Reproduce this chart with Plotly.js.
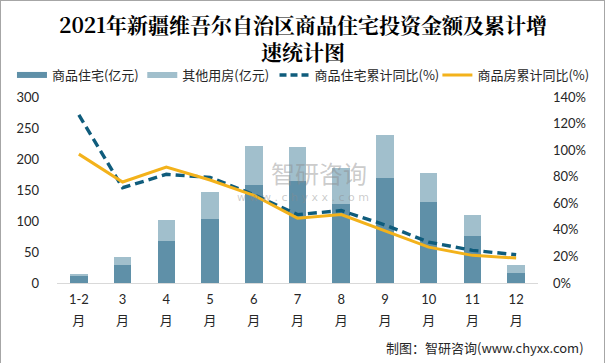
<!DOCTYPE html>
<html>
<head>
<meta charset="utf-8">
<script src="https://cdn.plot.ly/plotly-3.0.1.min.js"></script>
<style>
html,body{margin:0;padding:0;background:#fff;}
#wrap{position:relative;width:606px;height:363px;}
#chart{position:absolute;left:0;top:0;width:606px;height:363px;}
#frame{position:absolute;left:0;top:0;width:603px;height:370px;border:1px solid #a6a6a6;pointer-events:none;}
</style>
</head>
<body>
<div id="wrap"><div id="chart"></div><div id="frame"></div></div>
<script>
// ---- data ----
var categories = ['1-2月','3月','4月','5月','6月','7月','8月','9月','10月','11月','12月'];
var tickNums = ['1-2','3','4','5','6','7','8','9','10','11','12'];
var monthChar = ['月','月','月','月','月','月','月','月','月','月','月'];
var residential = [11.3, 29, 67.7, 103, 158, 164, 127.4, 169.4, 130.7, 75.8, 16];   // 商品住宅(亿元)
var otherUse    = [3.2, 13, 34, 44, 63, 55, 58, 69, 47, 34, 13];                   // 其他用房(亿元)
var resCumYoY   = [126.5, 71.7, 81.8, 79.5, 66.5, 51.5, 54.5, 43.7, 30.8, 24.6, 21.3]; // 商品住宅累计同比(%)
var allCumYoY   = [97, 76, 87.2, 77.5, 66, 48.8, 51.5, 39.5, 27, 20.8, 18.8];        // 商品房累计同比(%)
var seriesNames = ['商品住宅(亿元)','其他用房(亿元)','商品住宅累计同比(%)','商品房累计同比(%)'];
var leftTicks = [0,50,100,150,200,250,300];
var rightTicks = [0,20,40,60,80,100,120,140];
var rightTickLabels = ['0%','20%','40%','60%','80%','100%','120%','140%'];
var titleText = '2021年新疆维吾尔自治区商品住宅投资金额及累计增<br>速统计图';
var sourceText = '制图：智研咨询(www.chyxx.com)';

var C_DARK = '#5f90a8', C_LIGHT = '#a1bfcc', C_DASH = '#0f5c7c', C_GOLD = '#f3b21b';
var catRange = [-0.5, categories.length - 0.5];

var traces = [
  {type:'bar', x:categories, y:residential, marker:{color:C_DARK}, name:seriesNames[0], showlegend:false},
  {type:'bar', x:categories, y:otherUse, marker:{color:C_LIGHT}, name:seriesNames[1], showlegend:false},
  {type:'scatter', mode:'lines', x:categories, y:resCumYoY, xaxis:'x2', yaxis:'y2', name:seriesNames[2], showlegend:false,
   line:{color:C_DASH, width:3.4, dash:'9px,5px'}},
  {type:'scatter', mode:'lines', x:categories, y:allCumYoY, xaxis:'x2', yaxis:'y2', name:seriesNames[3], showlegend:false,
   line:{color:C_GOLD, width:3}},
  // legend entries (one legend per entry, placed like the reference)
  {type:'scatter', mode:'lines', x:[null], y:[null], name:seriesNames[0], legend:'legend', line:{color:C_DARK, width:6}},
  {type:'scatter', mode:'lines', x:[null], y:[null], name:seriesNames[1], legend:'legend2', line:{color:C_LIGHT, width:6}},
  {type:'scatter', mode:'lines', x:[null], y:[null], name:seriesNames[2], legend:'legend3', line:{color:C_DASH, width:3.4, dash:'7px,4px'}},
  {type:'scatter', mode:'lines', x:[null], y:[null], name:seriesNames[3], legend:'legend4', line:{color:C_GOLD, width:3}}
];

var W0 = 46, W1 = 548, H0 = 97, H1 = 283;
function px(x){ return (x - W0) / (W1 - W0); }
function py(y){ return (H1 - y) / (H1 - H0); }

var numFont = {family:"Lato, 'Noto Sans CJK SC', sans-serif", size:13, color:'#262626'};
var legFont = {family:"'Noto Sans CJK SC', sans-serif", size:13, color:'#262626'};
function leg(textStart){
  return {orientation:'h', x:px(textStart - 48), xanchor:'left', y:py(60), yanchor:'top',
          font:legFont, bgcolor:'rgba(0,0,0,0)', borderwidth:0};
}

var layout = {
  width:606, height:363,
  margin:{l:46, r:58, t:97, b:80, pad:0},
  paper_bgcolor:'#ffffff', plot_bgcolor:'#ffffff',
  barmode:'stack', bargap:0.6,
  title:{text:titleText, x:0.5, xref:'container', xanchor:'center', y:1-33/363, yref:'container', yanchor:'top',
         font:{family:"'Noto Serif CJK SC','Noto Sans CJK SC', serif", size:21, color:'#000', weight:700}},
  showlegend:true,
  legend:leg(47), legend2:leg(183), legend3:leg(321), legend4:leg(491),
  xaxis:{type:'category', categoryorder:'array', categoryarray:categories, range:catRange,
         tickmode:'array', tickvals:categories, ticktext:tickNums,
         showline:true, linecolor:'#d9d9d9', linewidth:1, showgrid:false, zeroline:false,
         ticks:'', tickfont:numFont, ticklabelstandoff:4},
  xaxis2:{type:'category', overlaying:'x', anchor:'y2', side:'bottom', categoryorder:'array', categoryarray:categories, range:catRange,
          tickmode:'array', tickvals:categories, ticktext:monthChar, showline:false, showgrid:false, zeroline:false,
          ticks:'', tickfont:{family:"'Noto Sans CJK SC', sans-serif", size:13, color:'#262626'}, ticklabelstandoff:28},
  yaxis:{range:[0,300], tickmode:'array', tickvals:leftTicks, showgrid:false, zeroline:false, showline:false,
         ticks:'', tickfont:numFont, ticklabelstandoff:17},
  yaxis2:{overlaying:'y', anchor:'x2', side:'right', range:[0,140], tickmode:'array', tickvals:rightTicks, ticktext:rightTickLabels,
          showgrid:false, zeroline:false, showline:false, ticks:'', tickfont:numFont, ticklabelstandoff:14},
  annotations:[
    {xref:'paper', yref:'paper', x:px(598), y:py(347), xanchor:'right', yanchor:'middle', showarrow:false,
     text:sourceText, font:{family:"'Noto Sans CJK SC', sans-serif", size:13, color:'#262626'}},
    {xref:'paper', yref:'paper', x:px(319), y:py(172), xanchor:'center', yanchor:'middle', showarrow:false,
     text:'智研咨询', font:{family:"'Noto Sans CJK SC', sans-serif", size:24, color:'rgba(140,140,140,0.45)'}},
    {xref:'paper', yref:'paper', x:px(303), y:py(197), xanchor:'center', yanchor:'middle', showarrow:false,
     text:'w w w . c h y x x . c o m', font:{family:"'DejaVu Sans', sans-serif", size:11, color:'rgba(140,140,140,0.45)'}}
  ]
};

Plotly.newPlot('chart', traces, layout, {staticPlot:true, displayModeBar:false});
</script>
</body>
</html>
